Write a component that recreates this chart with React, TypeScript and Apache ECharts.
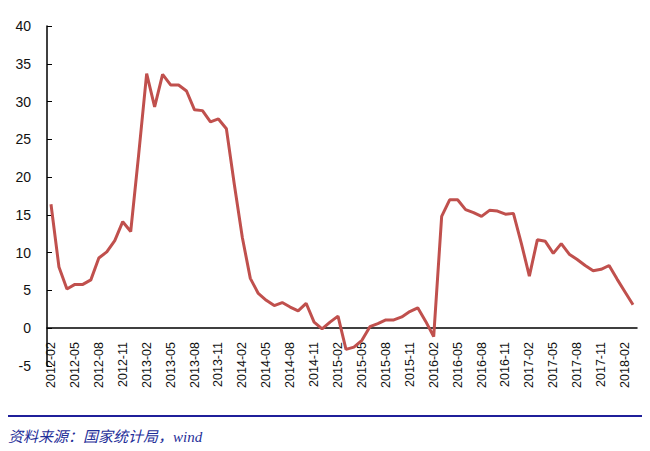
import React, { useEffect, useRef } from "react";
import * as echarts from "echarts";

const startYear = 2012;
const startMonth = 2;
const values: number[] = [
  16.4, 8.1, 5.2, 5.8, 5.8, 6.4, 9.3, 10.1, 11.6, 14.1, 12.8, 23.0,
  33.7, 29.3, 33.6, 32.2, 32.2, 31.4, 28.9, 28.8, 27.3, 27.7, 26.4, 19.0,
  12.0, 6.6, 4.6, 3.7, 3.0, 3.4, 2.8, 2.3, 3.3, 0.8, -0.1, 0.8,
  1.6, -2.8, -2.5, -1.6, 0.2, 0.6, 1.1, 1.1, 1.5, 2.2, 2.7, 0.9,
  -1.1, 14.8, 17.0, 17.0, 15.7, 15.3, 14.8, 15.6, 15.5, 15.1, 15.2, 11.2,
  6.9, 11.7, 11.5, 9.9, 11.2, 9.8, 9.1, 8.3, 7.6, 7.8, 8.3, 6.5,
  4.8, 3.1,
];
const categories: string[] = values.map((_, i) => {
  const m = startMonth - 1 + i;
  const y = startYear + Math.floor(m / 12);
  const mm = (m % 12) + 1;
  return `${y}-${mm < 10 ? "0" + mm : mm}`;
});
const sourceText = "资料来源：国家统计局，wind";

export default function App() {
  const ref = useRef<HTMLDivElement>(null);
  useEffect(() => {
    const chart = echarts.init(ref.current!, null, { renderer: "svg" });
    chart.setOption({
      animation: false,
      backgroundColor: "#fff",
      grid: { left: 47, right: 13, top: 26, bottom: 85, containLabel: false },
      xAxis: [
        {
          type: "category",
          data: categories,
          boundaryGap: true,
          axisLine: { onZero: true, lineStyle: { color: "#000", width: 1.5 } },
          axisTick: { inside: true, interval: 2, length: 5, lineStyle: { color: "#000" } },
          axisLabel: { show: false },
          splitLine: { show: false },
        },
        {
          type: "category",
          data: categories,
          position: "bottom",
          boundaryGap: true,
          offset: -24,
          axisLine: { show: false, onZero: false },
          axisTick: { show: false },
          axisLabel: {
            interval: 2,
            rotate: 90,
            color: "#111",
            fontSize: 12.5,
            fontFamily: "Liberation Sans, Arial",
            margin: 0,
          },
          splitLine: { show: false },
        },
      ],
      yAxis: {
        type: "value",
        min: -5,
        max: 40,
        interval: 5,
        axisLine: { show: true, lineStyle: { color: "#000", width: 1.5 } },
        axisTick: { show: true, inside: true, length: 5, lineStyle: { color: "#000" } },
        axisLabel: { color: "#111", fontSize: 14, fontFamily: "Liberation Sans, Arial", margin: 16 },
        splitLine: { show: false },
      },
      series: [
        {
          type: "line",
          data: values,
          showSymbol: false,
          lineStyle: { color: "#c0504d", width: 3 },
        },
      ],
      graphic: [
        { type: "rect", shape: { x: 3, y: 3, width: 647, height: 2 }, style: { fill: "#1f1f9a" } },
        { type: "rect", shape: { x: 3, y: 415, width: 647, height: 2 }, style: { fill: "#1f1f9a" } },
        {
          type: "text",
          x: 8,
          y: 429,
          style: {
            text: sourceText,
            fill: "#1f2f99",
            font: "italic 15px 'Liberation Serif', 'Noto Sans CJK SC', serif",
          },
        },
      ],
    });
    return () => chart.dispose();
  }, []);
  return <div ref={ref} style={{ width: 650, height: 451, margin: -8 }} />;
}
